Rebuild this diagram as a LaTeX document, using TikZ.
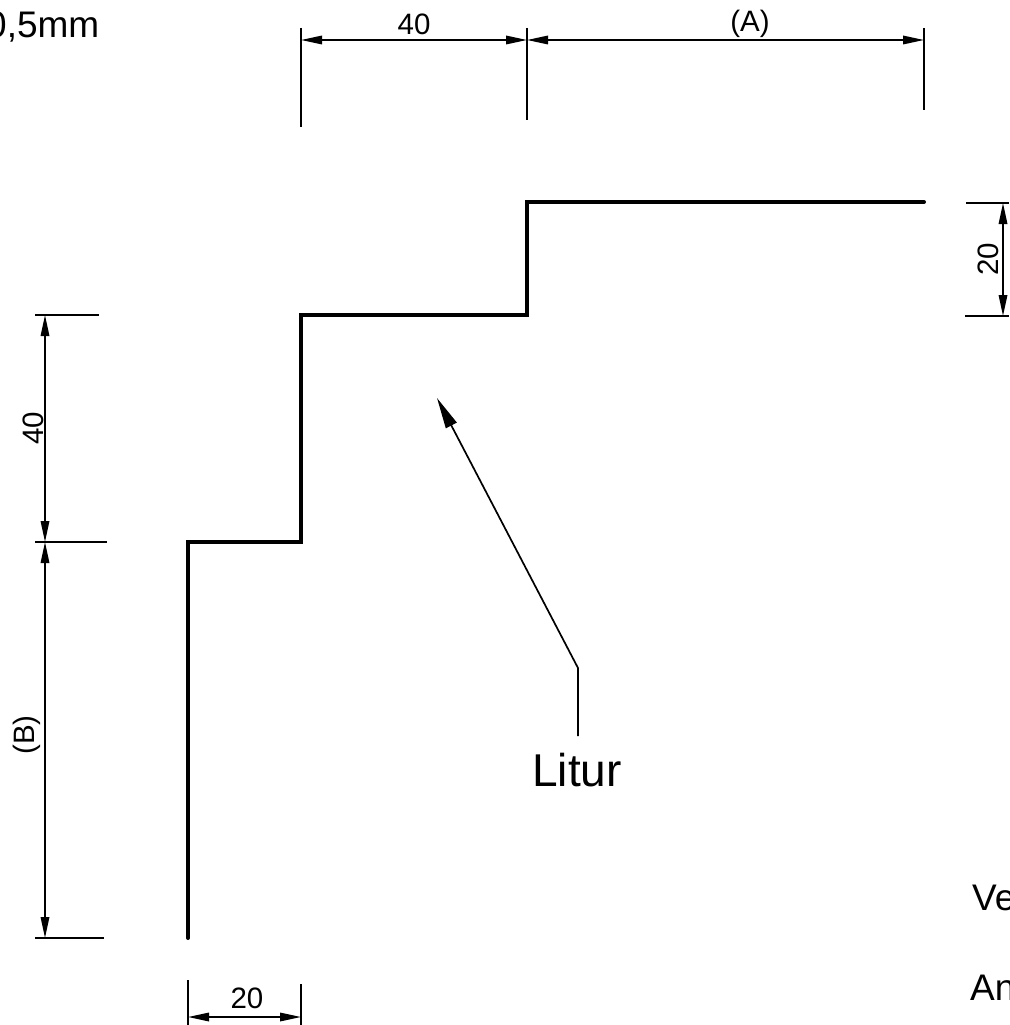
\documentclass[tikz,border=0pt]{standalone}
\usepackage{fontspec}
\setmainfont{Liberation Sans}
\usetikzlibrary{arrows.meta}
\tikzset{
  outline/.style={line width=4pt,line cap=round,line join=miter},
  thin line/.style={line width=1.7pt},
  dimline/.style={line width=1.7pt,{Triangle[length=21pt,width=8.5pt]}-{Triangle[length=21pt,width=8.5pt]}},
  leader/.style={line width=1.7pt,-{Triangle[length=31pt,width=12pt]}},
  dimtext/.style={inner sep=0pt,font=\fontsize{29.5}{30}\selectfont},
  bigtext/.style={inner sep=0pt,anchor=base west,font=\fontsize{37}{37}\selectfont},
}
\begin{document}
\begin{tikzpicture}[x=1pt,y=-1pt]
\useasboundingbox (0,0) rectangle (1009,1025);
\clip (0,0) rectangle (1009,1025);
% profile
\coordinate (p1) at (188,938);
\coordinate (p2) at (188,542);
\coordinate (p3) at (301,542);
\coordinate (p4) at (301,315);
\coordinate (p5) at (527,315);
\coordinate (p6) at (527,202);
\coordinate (p7) at (924,202);
\draw[outline] (p1)--(p2)--(p3)--(p4)--(p5)--(p6)--(p7);
% top dimensions
\coordinate (ta) at (301,40);
\coordinate (tb) at (527,40);
\coordinate (tc) at (924,40);
\coordinate (tas) at (301,127);
\coordinate (tbs) at (527,120);
\coordinate (tcs) at (924,110);
\coordinate (tae) at (301,28);
\coordinate (tbe) at (527,28);
\coordinate (tce) at (924,28);
\draw[thin line] (tae)--(tas);
\draw[thin line] (tbe)--(tbs);
\draw[thin line] (tce)--(tcs);
\draw[dimline] (ta)--(tb);
\draw[dimline] (tb)--(tc);
\node[dimtext] (t40) at (414,24) {40};
\node[dimtext] (tA) at (750,24) {(A)};
% right dimension
\coordinate (ra) at (1003,203);
\coordinate (rb) at (1003,316);
\coordinate (rae) at (966,203);
\coordinate (rbe) at (965,316);
\coordinate (raf) at (1009,203);
\coordinate (rbf) at (1009,316);
\draw[thin line] (rae)--(raf);
\draw[thin line] (rbe)--(rbf);
\draw[dimline] (ra)--(rb);
\node[dimtext,rotate=90] (r20) at (988,259) {20};
% left dimensions
\coordinate (la) at (45,315);
\coordinate (lb) at (45,542);
\coordinate (lc) at (45,938);
\coordinate (las) at (35,315);
\coordinate (lbs) at (35,542);
\coordinate (lcs) at (35,938);
\coordinate (lae) at (99,315);
\coordinate (lbe) at (107,542);
\coordinate (lce) at (104,938);
\draw[thin line] (las)--(lae);
\draw[thin line] (lbs)--(lbe);
\draw[thin line] (lcs)--(lce);
\draw[dimline] (la)--(lb);
\draw[dimline] (lb)--(lc);
\node[dimtext,rotate=90] (l40) at (33,428) {40};
\node[dimtext,rotate=90] (lB) at (27,735) {(B)};
% bottom dimension
\coordinate (ba) at (188,1017);
\coordinate (bb) at (301,1017);
\coordinate (bas) at (188,980);
\coordinate (bbs) at (301,984);
\coordinate (bae) at (188,1025);
\coordinate (bbe) at (301,1025);
\draw[thin line] (bas)--(bae);
\draw[thin line] (bbs)--(bbe);
\draw[dimline] (ba)--(bb);
\node[dimtext] (b20) at (247,998) {20};
% leader
\node[inner sep=0pt,font=\fontsize{46}{46}\selectfont] (lit) at (577,770) {Litur};
\coordinate (lk) at (578,668);
\coordinate (ls) at (578,736);
\coordinate (lt) at (437,398);
\draw[leader] (ls)--(lk)--(lt);
% clipped notes
\node[bigtext] (n1) at (-14,38) {0,5mm};
\node[bigtext] (n2) at (972,910) {Ve};
\node[bigtext] (n3) at (970,1000) {An};
\end{tikzpicture}
\end{document}
